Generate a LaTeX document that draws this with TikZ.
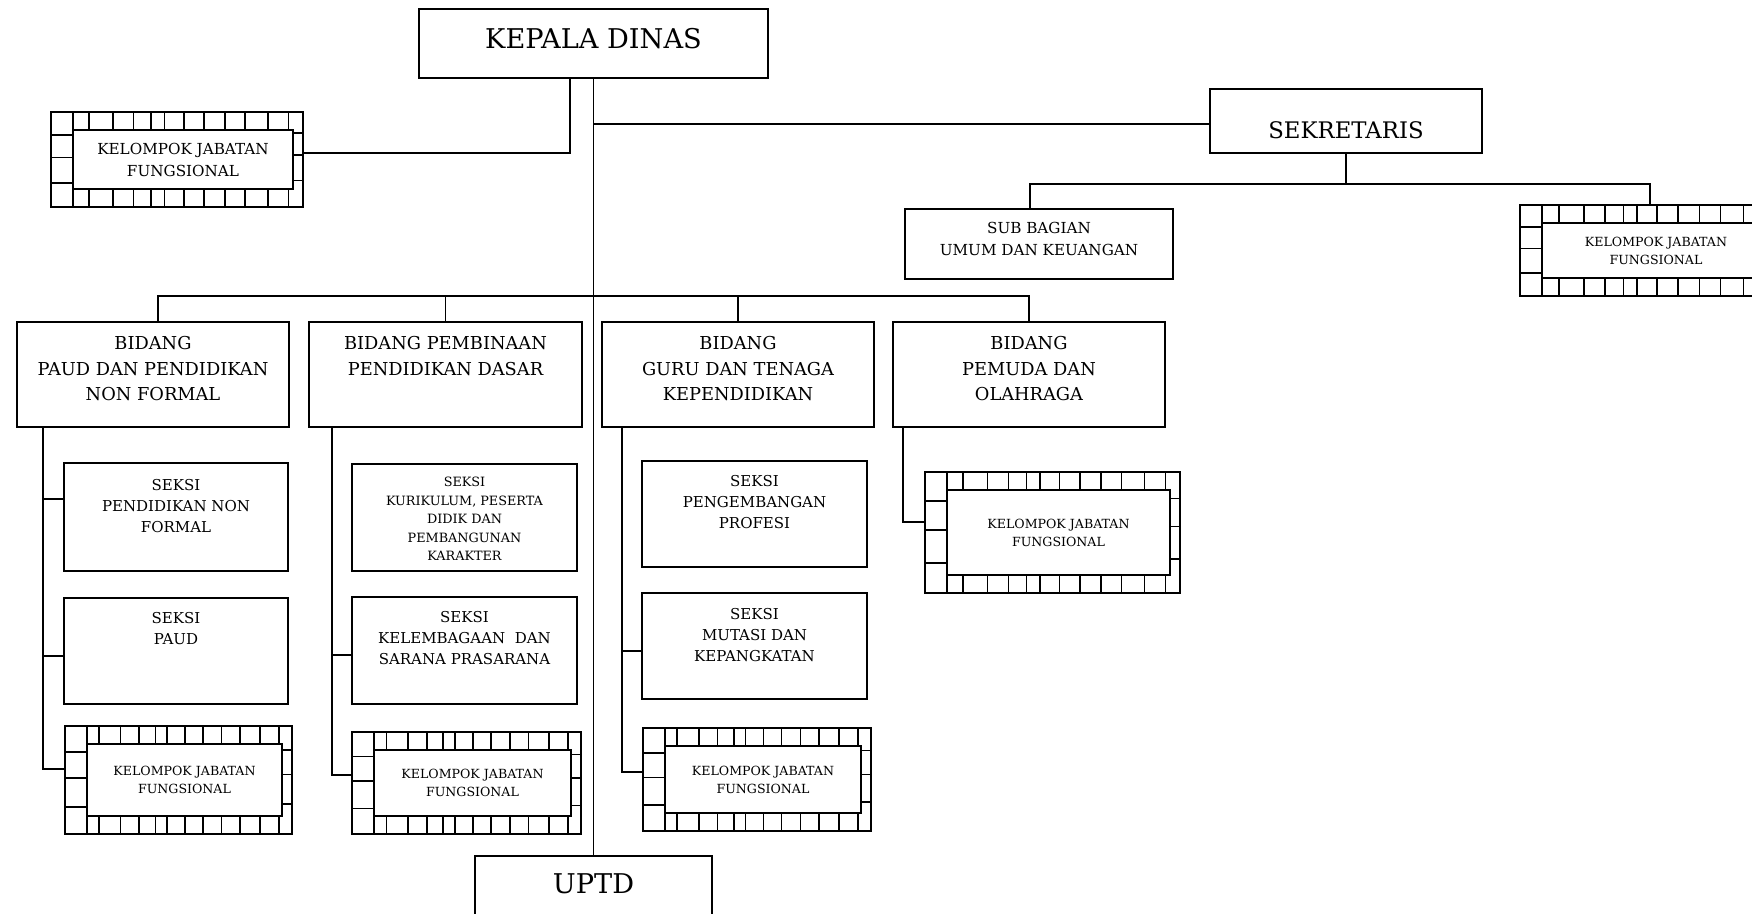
\documentclass[tikz,border=0pt]{standalone}
\usepackage{fontspec}
\setmainfont{DejaVu Serif}
\usetikzlibrary{calc}

% box with its text set near the top: name, x1, y1, x2, y2, box style, text style, text offset, text
\newcommand{\orgbox}[9]{%
    \node[#6, minimum width={(#4-#2)*0.5pt}, minimum height={(#5-#3)*0.5pt}, anchor=north west] (#1) at (#2,#3) {};
    \node[txt, #7, anchor=north] (#1-t) at ($(#1.north)+(0,#8)$) {#9};
}

% framed box of the functional group: name, x1, y1, x2, y2, font style
\newcommand{\kjfbox}[6]{%
    \node[kjfouter, minimum width={(#4-#2)*0.5pt}, minimum height={(#5-#3)*0.5pt}, anchor=north west] (#1) at (#2,#3) {};
    \node[kjfinner, #6, minimum width={(#4-#2-32)*0.5pt}, minimum height={(#5-#3-36)*0.5pt}, anchor=north west] (#1-in) at (#2+22,#3+18) {KELOMPOK JABATAN\\FUNGSIONAL};
    \draw[kjfcell] (#1-in.north west |- #1.north) -- (#1-in.south west |- #1.south);
    \foreach \f in {0.15, 0.245, 0.327, 0.398, 0.45, 0.528, 0.607, 0.69, 0.771, 0.86, 0.943} {
        \draw[kjfcell] ($(#1.north west)!\f!(#1.north east)$) -- ++(0,18);
        \draw[kjfcell] ($(#1.south west)!\f!(#1.south east)$) -- ++(0,-18);
    }
    \foreach \f in {0.24, 0.48, 0.75}
        \draw[kjfcell] ($(#1.north west)!\f!(#1.south west)$) -- ++(22,0);
    \foreach \f in {0.22, 0.45, 0.72}
        \draw[kjfcell] ($(#1.north east)!\f!(#1.south east)$) -- ++(-10,0);
}

\begin{document}
\begin{tikzpicture}[
    x=0.5pt, y=-0.5pt,
    unit/.style={draw, line width=0.6pt, inner sep=0pt, outer sep=0pt},
    seksi/.style={unit, line width=1.1pt},
    txt/.style={inner sep=0pt, align=center},
    link/.style={line width=0.7pt},
    stem/.style={line width=1pt},
    kjfouter/.style={draw, line width=1pt, inner sep=0pt, outer sep=0pt},
    kjfinner/.style={draw, line width=1pt, fill=white, inner sep=0pt, outer sep=0pt, align=center},
    kjfcell/.style={line width=0.8pt},
    headfont/.style={font=\fontsize{13.6}{16}\selectfont},
    sekfont/.style={font=\fontsize{11.4}{14}\selectfont},
    bidfont/.style={font=\fontsize{8.9}{12.7}\selectfont},
    subfont/.style={font=\fontsize{7.6}{11}\selectfont},
    seksifont/.style={font=\fontsize{7.5}{10.5}\selectfont},
    tinyfont/.style={font=\fontsize{6.4}{9.2}\selectfont},
    kjfsmall/.style={font=\fontsize{6.3}{9}\selectfont},
    kjfbig/.style={font=\fontsize{7.6}{11}\selectfont}
]
    \useasboundingbox (0,0) rectangle (1752,914);
    \clip (0,0) rectangle (1752,914);

    % === Top ===
    \orgbox{kepala}{419}{9}{768}{78}{unit}{headfont}{19}{KEPALA DINAS}
    \orgbox{sekr}{1210}{89}{1482}{153}{unit}{sekfont}{32}{SEKRETARIS}
    \orgbox{subbag}{905}{209}{1173}{279}{seksi}{subfont}{13}{SUB BAGIAN\\UMUM DAN KEUANGAN}
    \kjfbox{kjf0}{51}{112}{303}{207}{kjfbig}
    \kjfbox{kjf1}{1520}{205}{1780}{296}{kjfsmall}

    % === Bidang ===
    \orgbox{bid1}{17}{322}{289}{427}{unit}{bidfont}{14}{BIDANG\\PAUD DAN PENDIDIKAN\\NON FORMAL}
    \orgbox{bid2}{309}{322}{582}{427}{unit}{bidfont}{14}{BIDANG PEMBINAAN\\PENDIDIKAN DASAR}
    \orgbox{bid3}{602}{322}{874}{427}{unit}{bidfont}{14}{BIDANG\\GURU DAN TENAGA\\KEPENDIDIKAN}
    \orgbox{bid4}{893}{322}{1165}{427}{unit}{bidfont}{14}{BIDANG\\PEMUDA DAN\\OLAHRAGA}

    % === Seksi ===
    \orgbox{s11}{64}{463}{288}{571}{seksi}{seksifont}{16}{SEKSI\\PENDIDIKAN NON\\FORMAL}
    \orgbox{s12}{64}{598}{288}{704}{seksi}{seksifont}{14}{SEKSI\\PAUD}
    \kjfbox{k1}{65}{726}{292}{834}{kjfsmall}
    \orgbox{s21}{352}{464}{577}{571}{seksi}{tinyfont}{13}{SEKSI\\KURIKULUM, PESERTA\\DIDIK DAN\\PEMBANGUNAN\\KARAKTER}
    \orgbox{s22}{352}{597}{577}{704}{seksi}{seksifont}{14}{SEKSI\\KELEMBAGAAN\ \ DAN\\SARANA PRASARANA}
    \kjfbox{k2}{352}{732}{581}{834}{kjfsmall}
    \orgbox{s31}{642}{461}{867}{567}{seksi}{seksifont}{14}{SEKSI\\PENGEMBANGAN\\PROFESI}
    \orgbox{s32}{642}{593}{867}{699}{seksi}{seksifont}{15}{SEKSI\\MUTASI DAN\\KEPANGKATAN}
    \kjfbox{k3}{643}{728}{871}{831}{kjfsmall}
    \kjfbox{k4}{925}{472}{1180}{593}{kjfsmall}

    \orgbox{uptd}{475}{856}{712}{940}{unit}{headfont}{17}{UPTD}

    % === Lines ===
    \draw[link] (kepala.south) -- (kepala.south |- uptd.north);
    \draw[stem] ([xshift=-12pt]kepala.south) |- ([yshift=3pt]kjf0.east);
    \draw[link] ([yshift=-1.5pt]sekr.west) -- ++(-617,0);
    \draw[link] (sekr.south) -- ++(0,31) coordinate (sekbus);
    \draw[link] ([xshift=-4.5pt]subbag.north) |- (sekbus) -| (kjf1.north);
    \draw[link] ([xshift=2.5pt]bid1.north) -- ++(0,-26) -| (bid4.north);
    \draw[link] (bid2.north) -- ++(0,-26);
    \draw[link] (bid3.north) -- ++(0,-26);

    % columns
    \draw[stem] ([xshift=13pt]bid1.south west) |- ([yshift=5.5pt]k1.west);
    \draw[stem] ([yshift=9pt]s11.west) -- ++(-21,0);
    \draw[stem] ([yshift=-2.5pt]s12.west) -- ++(-21,0);
    \draw[stem] ([xshift=11.5pt]bid2.south west) |- ([yshift=4pt]k2.west);
    \draw[stem] ([yshift=-2pt]s22.west) -- ++(-20,0);
    \draw[stem] ([xshift=10pt]bid3.south west) |- ([yshift=4pt]k3.west);
    \draw[stem] ([yshift=-2.5pt]s32.west) -- ++(-20,0);
    \draw[stem] ([xshift=5pt]bid4.south west) |- ([yshift=5pt]k4.west);
\end{tikzpicture}
\end{document}
